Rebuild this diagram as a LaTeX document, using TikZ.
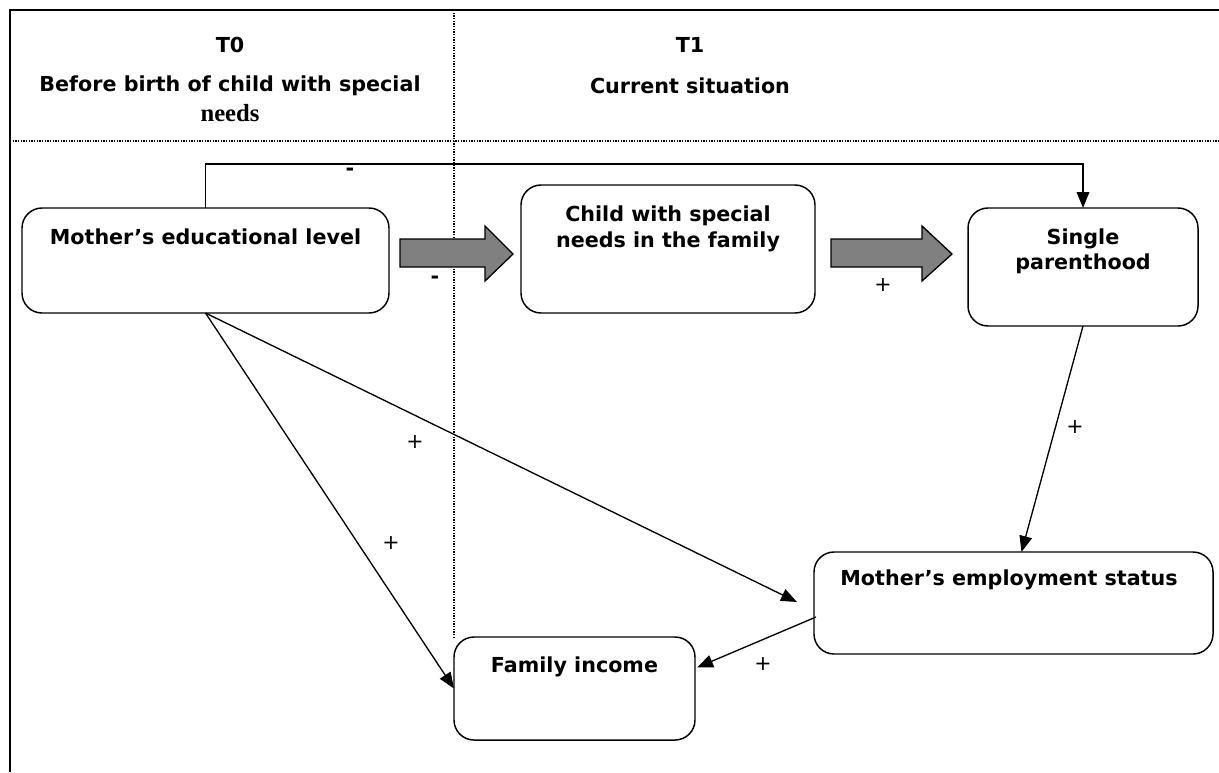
\documentclass[tikz,border=0pt]{standalone}
\usepackage{fontspec}
\setmainfont{DejaVu Sans}
\newfontfamily\serifbold{Liberation Serif}
\usetikzlibrary{arrows.meta,calc}
\definecolor{fatgray}{RGB}{128,128,128}
\begin{document}
\begin{tikzpicture}[x=0.75pt,y=-0.75pt,
  box/.style={draw,line width=1.1pt,rounded corners=15pt,inner sep=0pt,outer sep=0pt},
  lbl/.style={font=\fontsize{15.5}{19}\selectfont\bfseries,align=center,inner sep=0pt},
  sign/.style={font=\fontsize{15.5}{19}\selectfont,inner sep=0pt},
  conn/.style={line width=1pt,-{Triangle[length=12pt,width=9.5pt]}},
  dots/.style={line width=1pt,dash pattern=on 0.9pt off 1.1pt},
  fat/.style={draw,line width=1pt,fill=fatgray}]
\useasboundingbox (0,0) rectangle (1219,772);

% frame and grid
\coordinate (ftl) at (10,10);
\coordinate (ftr) at (1219,10);
\coordinate (fbl) at (10,772);
\draw[line width=1.5pt] (ftr) -- (ftl) -- (fbl);
\coordinate (hl) at (10,141);
\coordinate (hr) at (1219,141);
\draw[dots] (hl) -- (hr);

% boxes
\node[box,minimum width=275.25pt,minimum height=78.75pt] (edu) at (205.5,260.5) {};
\node[box,minimum width=220.5pt,minimum height=96pt] (child) at (668,249) {};
\node[box,minimum width=172.5pt,minimum height=88.5pt] (single) at (1083,267) {};
\node[box,minimum width=299.25pt,minimum height=76.5pt] (emp) at (1013.5,603) {};
\node[box,minimum width=180.75pt,minimum height=77.25pt] (inc) at (574.5,688.5) {};

\coordinate (vt) at (454,10);
\draw[dots] (vt) -- (inc.north west);

% header texts
\node[lbl] (t0) at (230,45) {T0};
\node[lbl] (t0b) at (230,86) {Before birth of child with special};
\node[font=\fontsize{18.5}{21}\serifbold\bfseries,inner sep=0pt] (t0c) at (230,113) {needs};
\node[lbl] (t1) at (690,45) {T1};
\node[lbl] (t1b) at (690,86) {Current situation};

% box texts
\node[lbl] (eduT) at (205.5,237) {Mother’s educational level};
\node[lbl] (childT) at (668,229) {Child with special\\needs in the family};
\node[lbl] (singleT) at (1083,251) {Single\\parenthood};
\node[lbl] (empT) at (1009,580) {Mother’s employment status};
\node[lbl] (incT) at (574.5,667) {Family income};

% fat arrows
\filldraw[fat] (400,239) -- (485,239) -- (485,226) -- (513,254) -- (485,281) -- (485,267) -- (400,267) -- cycle;
\filldraw[fat] (831,239) -- (922,239) -- (922,226) -- (952,254) -- (922,281) -- (922,267) -- (831,267) -- cycle;

% connectors
\draw[conn] (edu.north) -- ++(0,-44) -| (single.north);
\draw[conn] (edu.south) -- (inc.west);
\coordinate (empin) at (797,602);
\draw[conn] (edu.south) -- (empin);
\draw[conn] (single.south) -- ($(emp.north)+(8,0)$);
\draw[conn] ($(emp.west)+(2,14)$) -- ($(inc.east)+(2,-21)$);

% signs
\node[sign,font=\fontsize{15.5}{19}\selectfont\bfseries] (m1) at (350,172) {-};
\node[sign,font=\fontsize{15.5}{19}\selectfont\bfseries] (m2) at (435,280) {-};
\node[sign] (p1) at (883,285) {+};
\node[sign] (p2) at (1075,427) {+};
\node[sign] (p3) at (415,442) {+};
\node[sign] (p4) at (391,543) {+};
\node[sign] (p5) at (763,664) {+};
\end{tikzpicture}
\end{document}
